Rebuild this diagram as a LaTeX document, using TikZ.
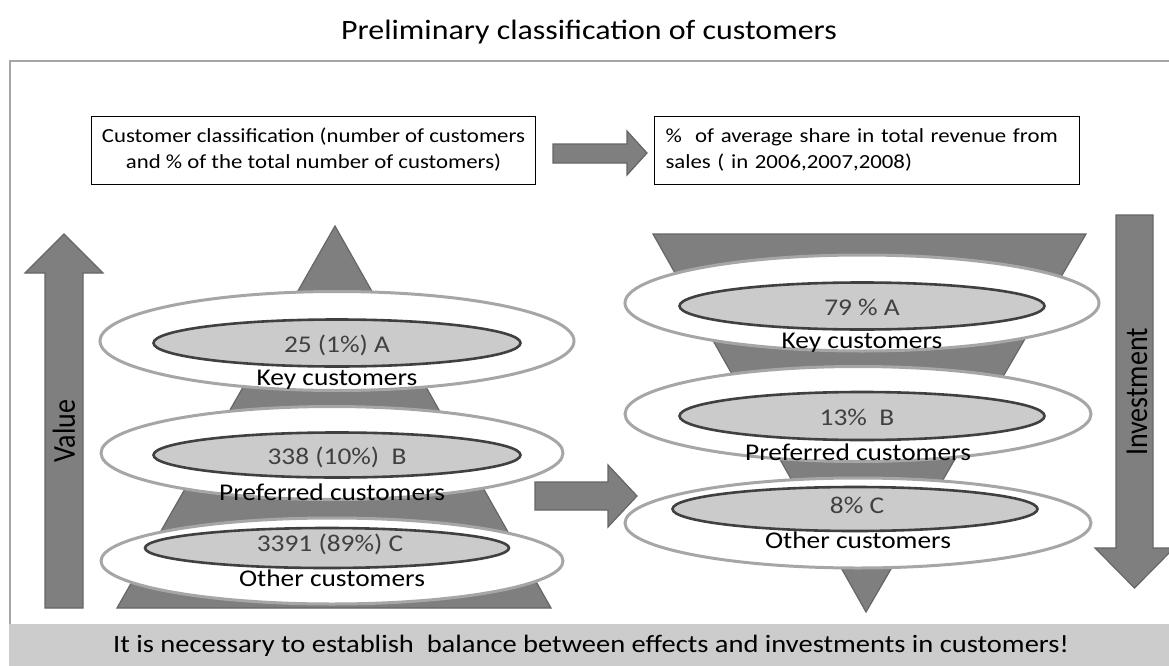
\documentclass[tikz,border=0pt]{standalone}
\usepackage{fontspec}
\usepackage{graphicx}
\setmainfont[FakeStretch=1.14]{Carlito}
\newfontfamily\plainfont{Carlito}
\usetikzlibrary{shapes.geometric}
\definecolor{dkfill}{HTML}{7F7F7F}
\definecolor{dkline}{HTML}{666666}
\definecolor{ringline}{HTML}{A6A6A6}
\definecolor{innerfill}{HTML}{CBCBCB}
\definecolor{innerline}{HTML}{404040}
\definecolor{bandfill}{HTML}{CCCCCC}
\definecolor{framecol}{HTML}{A6A6A6}
\tikzset{
  solidshape/.style={fill=dkfill, draw=dkline, line width=1.2pt, line join=miter},
  outerring/.style={ellipse, draw=ringline, line width=3pt, fill=white, inner sep=0pt},
  innerring/.style={ellipse, draw=innerline, line width=2.6pt, fill=innerfill, inner sep=0pt},
  valtext/.style={text=innerline, font=\fontsize{24}{26}\selectfont, inner sep=0pt},
  labtext/.style={text=black, font=\fontsize{24}{26}\selectfont, inner sep=0pt},
  infobox/.style={draw=black, line width=0.8pt, fill=white, minimum width=#1, minimum height=68pt, inner sep=0pt, font=\fontsize{20}{26}\selectfont},
}
\begin{document}
\begin{tikzpicture}[x=1pt,y=-1pt]
\useasboundingbox (0,0) rectangle (1169,666);
% frame and band
\draw[framecol, line width=2.2pt] (10,624) -- (10,61) -- (1180,61);
\fill[bandfill] (9,624) rectangle (1169,666);
\node[font=\fontsize{28}{30}\selectfont, inner sep=0pt] (title) at (589,32) {Preliminary classification of customers};
\node[font=\fontsize{25}{28}\selectfont, inner sep=0pt] (concl) at (591,646) {It is necessary to establish \ balance between effects and investments in customers!};
% top boxes
\node[infobox=444pt, align=center] (box1) at (313.5,150) {Customer classification (number of customers\\and \% of the total number of customers)};
\node[infobox=425pt, text width=403pt, align=left] (box2) at (867,150) {\% \ of average share in total revenue from\\sales ( in 2006,2007,2008)};
\draw[solidshape] (553,144) -- (627,144) -- (627,131) -- (647,153) -- (627,175) -- (627,163) -- (553,163) -- cycle;
% value arrow
\draw[solidshape] (45,608) -- (45,273) -- (25,273) -- (64,234) -- (103,273) -- (83,273) -- (83,608) -- cycle;
\node[rotate=90, inner sep=0pt] (value) at (64,431) {\plainfont\fontsize{28}{30}\selectfont\scalebox{1}[1.14]{Value}};
% investment arrow
\draw[solidshape] (1116,215) -- (1153,215) -- (1153,548) -- (1174,548) -- (1134.5,588) -- (1095,548) -- (1116,548) -- cycle;
\node[rotate=90, inner sep=0pt] (invest) at (1137,392) {\plainfont\fontsize{28}{30}\selectfont\scalebox{1}[1.14]{Investment}};
% left pyramid
\draw[solidshape] (335,226) -- (551,608) -- (117,608) -- cycle;
\node[outerring, minimum width=474pt, minimum height=99pt] (lo1) at (337,341) {};
\node[innerring, minimum width=367pt, minimum height=47pt] (li1) at (337,343) {};
\node[valtext] (lv1) at (337,345) {25 (1\%) A};
\node[labtext] (ll1) at (337,380) {Key customers};
\node[outerring, minimum width=462pt, minimum height=93pt] (lo2) at (332,453) {};
\node[innerring, minimum width=367pt, minimum height=45pt] (li2) at (337,455) {};
\node[valtext] (lv2) at (337,457) {338 (10\%) \ B};
\node[labtext] (ll2) at (332,492) {Preferred customers};
\node[outerring, minimum width=462pt, minimum height=86pt] (lo3) at (332,561) {};
\node[innerring, minimum width=364pt, minimum height=40pt] (li3) at (327,548) {};
\node[valtext] (lv3) at (330,544) {3391 (89\%) C};
\node[labtext] (ll3) at (332,578) {Other customers};
% middle arrow
\draw[solidshape] (535,482) -- (608,482) -- (608,465) -- (637,496) -- (608,527) -- (608,510) -- (535,510) -- cycle;
% right funnel
\draw[solidshape] (653,234) -- (1086,234) -- (866,612) -- cycle;
\node[outerring, minimum width=474pt, minimum height=96pt] (ro1) at (862,303) {};
\node[innerring, minimum width=365pt, minimum height=47pt] (ri1) at (862,306) {};
\node[valtext] (rv1) at (862,307) {79 \% A};
\node[labtext] (rl1) at (862,343) {Key customers};
\node[outerring, minimum width=466pt, minimum height=95pt] (ro2) at (858,414) {};
\node[innerring, minimum width=365pt, minimum height=48pt] (ri2) at (862,416) {};
\node[valtext] (rv2) at (857,417) {13\% \ B};
\node[labtext] (rl2) at (858,452) {Preferred customers};
\node[outerring, minimum width=466pt, minimum height=90pt] (ro3) at (858,523) {};
\node[innerring, minimum width=365pt, minimum height=44pt] (ri3) at (855,509) {};
\node[valtext] (rv3) at (857,505) {8\% C};
\node[labtext] (rl3) at (858,540) {Other customers};
\end{tikzpicture}
\end{document}
